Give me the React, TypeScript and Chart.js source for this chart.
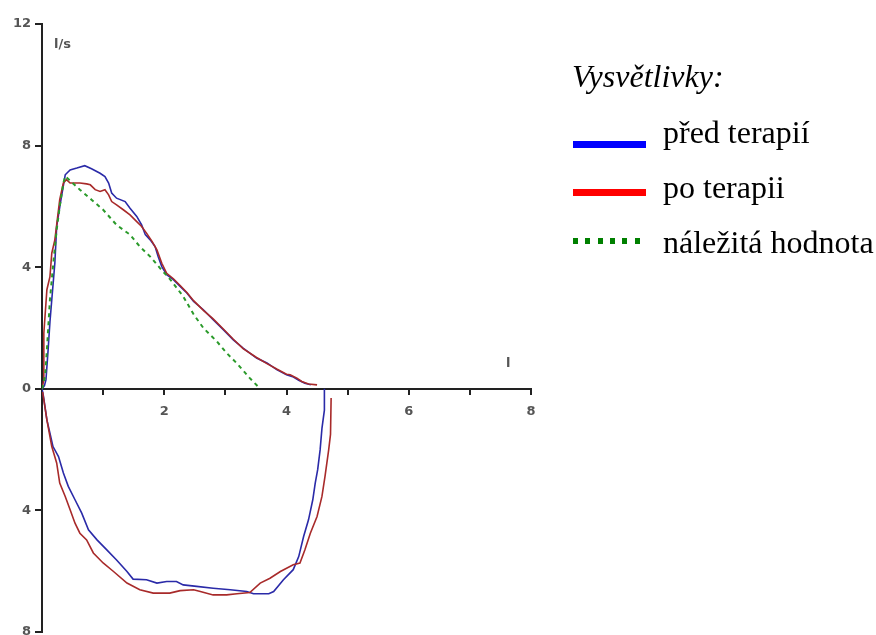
import React, { useEffect, useRef } from "react";
import { Chart, registerables } from "chart.js";

Chart.register(...registerables);

// Flow-volume loop: x = volume (l), y = flow (l/s)
const blueExp: [number, number][] = [
  [0, 0], [0.04, 0.1], [0.065, 0.3], [0.1, 1.28], [0.13, 2.2], [0.16, 2.93], [0.21, 4.13],
  [0.24, 5.34], [0.31, 6.22], [0.38, 7.04], [0.46, 7.2], [0.57, 7.26], [0.7, 7.34],
  [0.81, 7.24], [0.95, 7.09], [1.03, 6.98], [1.09, 6.77], [1.14, 6.44], [1.22, 6.27],
  [1.36, 6.16], [1.44, 5.94], [1.55, 5.67], [1.63, 5.39], [1.69, 5.07], [1.77, 4.9],
  [1.85, 4.68], [1.9, 4.35], [1.96, 4.02], [2.04, 3.75], [2.15, 3.59], [2.26, 3.37],
  [2.37, 3.15], [2.48, 2.87], [2.64, 2.6], [2.8, 2.27], [2.97, 1.94], [3.13, 1.61],
  [3.29, 1.34], [3.51, 1.01], [3.68, 0.85], [3.84, 0.63], [4.0, 0.46], [4.1, 0.4],
  [4.2, 0.28], [4.3, 0.18], [4.4, 0.13],
];

const blueInsp: [number, number][] = [
  [4.62, 0], [4.62, -0.7], [4.58, -1.3], [4.55, -2.01], [4.51, -2.66], [4.47, -3.1],
  [4.43, -3.65], [4.36, -4.31], [4.28, -4.86], [4.2, -5.52], [4.11, -5.95], [3.95, -6.28],
  [3.79, -6.67], [3.71, -6.74], [3.46, -6.74], [3.35, -6.67], [3.08, -6.61], [2.8, -6.56],
  [2.53, -6.5], [2.31, -6.45], [2.2, -6.34], [2.04, -6.34], [1.88, -6.39], [1.71, -6.28],
  [1.49, -6.26], [1.39, -6.01], [1.22, -5.63], [1.06, -5.3], [0.9, -4.97], [0.76, -4.64],
  [0.65, -4.09], [0.54, -3.65], [0.43, -3.21], [0.35, -2.77], [0.27, -2.23], [0.18, -1.9],
  [0.13, -1.46], [0.08, -1.02], [0.05, -0.6], [0.02, -0.2], [0, 0],
];

const redExp: [number, number][] = [
  [0, 0], [0.03, 0.3], [0.03, 1.83], [0.08, 3.26], [0.13, 3.69], [0.16, 4.46], [0.21, 4.9],
  [0.24, 5.39], [0.29, 6.22], [0.35, 6.77], [0.4, 6.88], [0.46, 6.77], [0.62, 6.77],
  [0.73, 6.74], [0.79, 6.71], [0.87, 6.55], [0.95, 6.49], [1.03, 6.55], [1.09, 6.38],
  [1.14, 6.16], [1.22, 6.05], [1.33, 5.89], [1.44, 5.72], [1.55, 5.5], [1.63, 5.34],
  [1.71, 5.12], [1.8, 4.85], [1.88, 4.57], [1.96, 4.13], [2.04, 3.8], [2.15, 3.62],
  [2.26, 3.4], [2.37, 3.17], [2.48, 2.9], [2.64, 2.58], [2.8, 2.3], [2.97, 1.96],
  [3.13, 1.63], [3.29, 1.32], [3.51, 1.03], [3.68, 0.83], [3.84, 0.65], [4.0, 0.48],
  [4.06, 0.46], [4.17, 0.35], [4.25, 0.24], [4.36, 0.16], [4.5, 0.13],
];

const redInsp: [number, number][] = [
  [4.73, -0.3], [4.72, -1.5], [4.69, -2.01], [4.63, -2.88], [4.58, -3.54], [4.5, -4.2],
  [4.39, -4.75], [4.3, -5.3], [4.22, -5.73], [4.11, -5.79], [3.9, -6.01], [3.73, -6.23],
  [3.57, -6.39], [3.4, -6.7], [3.19, -6.74], [3.02, -6.78], [2.8, -6.78], [2.59, -6.67],
  [2.48, -6.61], [2.26, -6.64], [2.09, -6.72], [1.82, -6.72], [1.6, -6.61], [1.39, -6.39],
  [1.17, -6.01], [1.0, -5.73], [0.84, -5.4], [0.73, -4.97], [0.62, -4.75], [0.54, -4.42],
  [0.46, -3.98], [0.38, -3.54], [0.29, -3.1], [0.24, -2.44], [0.16, -1.9], [0.08, -1.02],
  [0.04, -0.5], [0.01, -0.1],
];

const greenPred: [number, number][] = [
  [0, 0], [0.05, 0.4], [0.08, 1.28], [0.13, 2.93], [0.19, 4.24], [0.24, 5.23], [0.29, 6.0],
  [0.35, 6.77], [0.38, 6.99], [0.62, 6.55], [0.81, 6.22], [1.0, 5.89], [1.22, 5.39],
  [1.44, 5.07], [1.6, 4.68], [1.77, 4.35], [1.93, 3.97], [2.1, 3.59], [2.31, 3.04],
  [2.48, 2.45], [2.64, 2.0], [2.86, 1.56], [3.02, 1.18], [3.21, 0.79], [3.4, 0.35],
  [3.57, 0.0],
];

const legendTitle = "Vysvětlivky:";
const legendLabels = ["před terapií", "po terapii", "náležitá hodnota"];
const xTitle = "l";
const yTitle = "l/s";

const toPts = (a: [number, number][]) => a.map(([x, y]) => ({ x, y }));

const tickFont = { family: "'DejaVu Sans', sans-serif", size: 13, weight: "bold" as const };
const axisColor = "#222";
const labelColor = "#555";

export default function App() {
  const ref = useRef<HTMLCanvasElement | null>(null);

  useEffect(() => {
    if (!ref.current) return;
    const blue = "#2a2aa8";
    const red = "#a82a2a";
    const green = "#2a9a2a";
    const line = (data: [number, number][], color: string, dash: number[] = [], w = 1.6) => ({
      data: toPts(data),
      showLine: true,
      borderColor: color,
      backgroundColor: color,
      borderWidth: w,
      borderDash: dash,
      pointRadius: 0,
      tension: 0,
      fill: false,
    });
    const chart = new Chart(ref.current, {
      type: "scatter",
      data: {
        datasets: [
          line(greenPred, green, [4, 4], 2),
          line(redExp, red),
          line(redInsp, red),
          line(blueExp, blue),
          line(blueInsp, blue),
        ],
      },
      options: {
        responsive: false,
        animation: false,
        layout: { padding: { left: 0, top: 24, right: 345, bottom: 28 } },
        plugins: { legend: { display: false }, tooltip: { enabled: false } },
        scales: {
          x: {
            type: "linear",
            min: 0,
            max: 8,
            position: { y: 0 },
            ticks: {
              stepSize: 1,
              autoSkip: false,
              maxRotation: 0,
              padding: 10,
              font: tickFont,
              color: labelColor,
              callback: (v: any) => (Number(v) % 2 === 0 && Number(v) !== 0 ? String(v) : ""),
            },
            grid: { drawOnChartArea: false, drawTicks: true, tickLength: 5, color: axisColor, lineWidth: 2 },
            border: { display: true, color: axisColor, width: 2 },
          },
          y: {
            type: "linear",
            min: -8,
            max: 12,
            position: "left",
            afterFit: (s: any) => {
              s.width = 42;
            },
            ticks: {
              stepSize: 4,
              padding: 4,
              font: tickFont,
              color: labelColor,
              callback: (v: any) => String(Math.abs(Number(v))),
            },
            grid: { drawOnChartArea: false, drawTicks: true, tickLength: 7, color: axisColor, lineWidth: 2 },
            border: { display: true, color: axisColor, width: 2 },
          },
        },
      },
    });
    return () => chart.destroy();
  }, []);

  const serif = "'Liberation Serif', 'Times New Roman', serif";
  const txt: React.CSSProperties = {
    position: "absolute",
    fontFamily: serif,
    fontSize: 32,
    lineHeight: "32px",
    color: "#000",
    whiteSpace: "nowrap",
    margin: 0,
  };
  const small: React.CSSProperties = {
    position: "absolute",
    fontFamily: "'DejaVu Sans', sans-serif",
    fontSize: 13,
    fontWeight: "bold",
    lineHeight: "13px",
    color: labelColor,
    whiteSpace: "nowrap",
  };
  const dots = [0, 1, 2, 3, 4, 5];

  return (
    <div
      style={{
        position: "fixed",
        left: 0,
        top: 0,
        width: 876,
        height: 635,
        overflow: "hidden",
        background: "#fff",
      }}
    >
      <canvas ref={ref} width={876} height={660} style={{ position: "absolute", left: 0, top: 0, width: 876, height: 660 }} />
      <div style={{ ...small, left: 54, top: 37 }}>{yTitle}</div>
      <div style={{ ...small, left: 506, top: 356 }}>{xTitle}</div>

      <div style={{ ...txt, left: 572, top: 60, fontStyle: "italic" }}>{legendTitle}</div>

      <div style={{ position: "absolute", left: 573, top: 141, width: 73, height: 7, background: "#0000ff" }} />
      <div style={{ ...txt, left: 663, top: 116 }}>{legendLabels[0]}</div>

      <div style={{ position: "absolute", left: 573, top: 189, width: 73, height: 7, background: "#ff0000" }} />
      <div style={{ ...txt, left: 663, top: 171 }}>{legendLabels[1]}</div>

      {dots.map((i) => (
        <div
          key={i}
          style={{ position: "absolute", left: 573 + i * 12.3, top: 238, width: 5, height: 6, background: "#008000" }}
        />
      ))}
      <div style={{ ...txt, left: 663, top: 226 }}>{legendLabels[2]}</div>
    </div>
  );
}
